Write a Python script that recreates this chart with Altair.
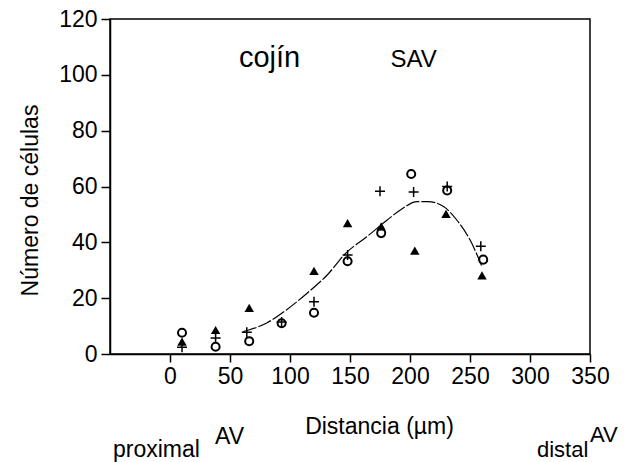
import altair as alt
import pandas as pd

# --- data ---
circle_x = [10, 38, 66, 93, 120, 148, 176, 201, 231, 261]
circle_y = [7.6, 2.6, 4.6, 11.0, 14.8, 33.2, 43.3, 64.5, 58.6, 33.8]

tri_x = [10, 38, 66, 120, 148, 176, 204, 230, 260]
tri_y = [4.4, 8.6, 16.5, 29.8, 46.9, 45.7, 37.0, 50.2, 28.2]

plus_x = [10, 38, 64, 93, 120, 148, 175, 203, 231, 259]
plus_y = [2.4, 5.7, 7.8, 11.5, 18.7, 35.5, 58.3, 58.0, 60.0, 38.6]

curve_x = [61, 81, 97, 114, 131, 147, 164, 181, 192, 206, 215, 228, 239, 250, 260]
curve_y = [8.0, 11.2, 15.8, 21.7, 28.3, 36.3, 42.0, 48.0, 51.6, 54.6, 54.6, 52.8, 48.0, 40.9, 31.3]

x_ticks = [0, 50, 100, 150, 200, 250, 300, 350]
y_ticks = [0, 20, 40, 60, 80, 100, 120]

FONT = "Liberation Sans"

xs = alt.Scale(domain=[-50, 350], nice=False, zero=False)
ys = alt.Scale(domain=[0, 120], nice=False)

x_enc = alt.X("x:Q", scale=xs, axis=alt.Axis(
    values=x_ticks, title="Distancia (µm)", grid=False, labelFlush=False,
    labelOverlap=False,
    tickSize=8, labelPadding=3, labelFontSize=23, labelFont=FONT,
    titleFont=FONT, titleFontSize=23, titleFontWeight="normal",
    titleX=269, titleY=79, titleBaseline="alphabetic", titleAnchor="middle",
    domainColor="black", tickColor="black", labelColor="black", titleColor="black",
    domainWidth=1.5, tickWidth=1.5))
y_enc = alt.Y("y:Q", scale=ys, axis=alt.Axis(
    values=y_ticks, title="Número de células", grid=False, labelFlush=False,
    labelOverlap=False,
    tickSize=9, labelPadding=4, labelFontSize=23, labelFont=FONT,
    titleFont=FONT, titleFontSize=23, titleFontWeight="normal",
    titleAngle=-90, titleX=-73, titleY=181, titleBaseline="alphabetic",
    titleAlign="center",
    domainColor="black", tickColor="black", labelColor="black", titleColor="black",
    domainWidth=1.5, tickWidth=1.5))

df_c = pd.DataFrame({"x": circle_x, "y": circle_y})
df_t = pd.DataFrame({"x": tri_x, "y": tri_y})
df_p = pd.DataFrame({"x": plus_x, "y": plus_y})
df_l = pd.DataFrame({"x": curve_x, "y": curve_y})

curve = alt.Chart(df_l).mark_line(
    color="black", strokeWidth=1.2, strokeDash=[14, 2], interpolate="monotone"
).encode(x=x_enc, y=y_enc)

circles = alt.Chart(df_c).mark_point(
    shape="circle", filled=False, color="black", size=65, strokeWidth=2, opacity=1
).encode(x="x:Q", y="y:Q")

tris = alt.Chart(df_t).mark_point(
    shape="triangle-up", filled=True, color="black", size=90, opacity=1
).encode(x="x:Q", y="y:Q")

pluses = alt.Chart(df_p).mark_point(
    shape="M-1,0H1M0,-1V1", filled=False, color="black", size=100, strokeWidth=1.5, opacity=1
).encode(x="x:Q", y="y:Q")

ann = pd.DataFrame({"x": [83, 203], "y": [102.9, 102.9], "t": ["cojín", "SAV"]})
ann1 = alt.Chart(ann.iloc[[0]]).mark_text(
    font=FONT, fontSize=29, color="black", baseline="alphabetic", align="center"
).encode(x="x:Q", y="y:Q", text="t:N")
ann2 = alt.Chart(ann.iloc[[1]]).mark_text(
    font=FONT, fontSize=24, color="black", baseline="alphabetic", align="center"
).encode(x="x:Q", y="y:Q", text="t:N")

def label(txt, px, py, fs):
    return alt.Chart(pd.DataFrame({"t": [txt]})).mark_text(
        font=FONT, fontSize=fs, color="black", baseline="alphabetic", align="left"
    ).encode(x=alt.value(px), y=alt.value(py), text="t:N")

labels = (label("proximal", 3, 438, 23) + label("AV", 105, 425, 23)
          + label("distal", 427, 438, 22) + label("AV", 480, 423, 22))

chart = alt.layer(curve, circles, tris, pluses, ann1, ann2, labels).properties(
    width=480, height=335,
    autosize=alt.AutoSizeParams(type="none"),
    padding={"left": 110, "top": 19, "right": 49, "bottom": 108},
    background="white",
).configure_view(stroke="black", strokeWidth=1.5)

chart.save("out.html", embed_options={"renderer": "svg", "actions": False})
